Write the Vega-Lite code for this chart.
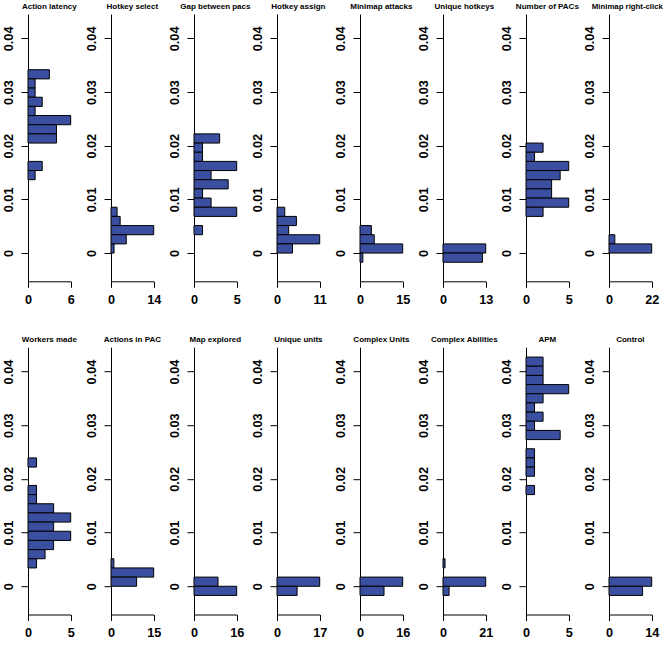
{
"$schema": "https://vega.github.io/schema/vega-lite/v6.json",
"padding": {"left": 1, "top": 3, "right": 0, "bottom": 0},
"background": "white",
"config": {
 "view": {"stroke": null},
 "font": "Liberation Sans",
 "title": {"fontSize": 8, "font": "Liberation Sans", "fontWeight": "bold", "anchor": "middle", "baseline": "alphabetic", "offset": 3, "color": "black"},
 "axisY": {"domainColor": "black", "domainWidth": 1, "tickColor": "black", "tickWidth": 1, "tickSize": 7, "labelAngle": 270, "labelAlign": "center", "labelBaseline": "alphabetic", "labelPadding": 9, "labelFontSize": 12.7, "labelFontWeight": "bold", "labelFont": "Liberation Sans", "labelColor": "black", "grid": false, "title": null, "labelOverlap": false, "labelFlush": false, "labelBound": false},
 "axisX": {"domainColor": "black", "domainWidth": 1, "tickColor": "black", "tickWidth": 1, "tickSize": 6, "labelPadding": 6, "labelBaseline": "top", "labelFontSize": 12.7, "labelFontWeight": "bold", "labelFont": "Liberation Sans", "labelColor": "black", "grid": false, "title": null, "labelOverlap": false, "labelFlush": false, "labelBound": false}
},
"data": {"values": [
 {"p": "Action latency", "lo": 0.032452, "hi": 0.03416, "n": 3},
 {"p": "Action latency", "lo": 0.030744, "hi": 0.032452, "n": 1},
 {"p": "Action latency", "lo": 0.029036, "hi": 0.030744, "n": 1},
 {"p": "Action latency", "lo": 0.027328, "hi": 0.029036, "n": 2},
 {"p": "Action latency", "lo": 0.02562, "hi": 0.027328, "n": 1},
 {"p": "Action latency", "lo": 0.023912, "hi": 0.02562, "n": 6},
 {"p": "Action latency", "lo": 0.022204, "hi": 0.023912, "n": 4},
 {"p": "Action latency", "lo": 0.020496, "hi": 0.022204, "n": 4},
 {"p": "Action latency", "lo": 0.015372, "hi": 0.01708, "n": 2},
 {"p": "Action latency", "lo": 0.013664, "hi": 0.015372, "n": 1},
 {"p": "Hotkey select", "lo": 0.006832, "hi": 0.00854, "n": 2},
 {"p": "Hotkey select", "lo": 0.005124, "hi": 0.006832, "n": 3},
 {"p": "Hotkey select", "lo": 0.003416, "hi": 0.005124, "n": 14},
 {"p": "Hotkey select", "lo": 0.001708, "hi": 0.003416, "n": 5},
 {"p": "Hotkey select", "lo": 0, "hi": 0.001708, "n": 1},
 {"p": "Gap between pacs", "lo": 0.020496, "hi": 0.022204, "n": 3},
 {"p": "Gap between pacs", "lo": 0.018788, "hi": 0.020496, "n": 1},
 {"p": "Gap between pacs", "lo": 0.01708, "hi": 0.018788, "n": 1},
 {"p": "Gap between pacs", "lo": 0.015372, "hi": 0.01708, "n": 5},
 {"p": "Gap between pacs", "lo": 0.013664, "hi": 0.015372, "n": 2},
 {"p": "Gap between pacs", "lo": 0.011956, "hi": 0.013664, "n": 4},
 {"p": "Gap between pacs", "lo": 0.010248, "hi": 0.011956, "n": 1},
 {"p": "Gap between pacs", "lo": 0.00854, "hi": 0.010248, "n": 2},
 {"p": "Gap between pacs", "lo": 0.006832, "hi": 0.00854, "n": 5},
 {"p": "Gap between pacs", "lo": 0.003416, "hi": 0.005124, "n": 1},
 {"p": "Hotkey assign", "lo": 0.006832, "hi": 0.00854, "n": 2},
 {"p": "Hotkey assign", "lo": 0.005124, "hi": 0.006832, "n": 5},
 {"p": "Hotkey assign", "lo": 0.003416, "hi": 0.005124, "n": 3},
 {"p": "Hotkey assign", "lo": 0.001708, "hi": 0.003416, "n": 11},
 {"p": "Hotkey assign", "lo": 0, "hi": 0.001708, "n": 4},
 {"p": "Minimap attacks", "lo": 0.003416, "hi": 0.005124, "n": 4},
 {"p": "Minimap attacks", "lo": 0.001708, "hi": 0.003416, "n": 5},
 {"p": "Minimap attacks", "lo": 0, "hi": 0.001708, "n": 15},
 {"p": "Minimap attacks", "lo": -0.001708, "hi": 0, "n": 1},
 {"p": "Unique hotkeys", "lo": 0, "hi": 0.001708, "n": 13},
 {"p": "Unique hotkeys", "lo": -0.001708, "hi": 0, "n": 12},
 {"p": "Number of PACs", "lo": 0.018788, "hi": 0.020496, "n": 2},
 {"p": "Number of PACs", "lo": 0.01708, "hi": 0.018788, "n": 1},
 {"p": "Number of PACs", "lo": 0.015372, "hi": 0.01708, "n": 5},
 {"p": "Number of PACs", "lo": 0.013664, "hi": 0.015372, "n": 4},
 {"p": "Number of PACs", "lo": 0.011956, "hi": 0.013664, "n": 3},
 {"p": "Number of PACs", "lo": 0.010248, "hi": 0.011956, "n": 3},
 {"p": "Number of PACs", "lo": 0.00854, "hi": 0.010248, "n": 5},
 {"p": "Number of PACs", "lo": 0.006832, "hi": 0.00854, "n": 2},
 {"p": "Minimap right-click", "lo": 0.001708, "hi": 0.003416, "n": 3},
 {"p": "Minimap right-click", "lo": 0, "hi": 0.001708, "n": 22},
 {"p": "Workers made", "lo": 0.022204, "hi": 0.023912, "n": 1},
 {"p": "Workers made", "lo": 0.01708, "hi": 0.018788, "n": 1},
 {"p": "Workers made", "lo": 0.015372, "hi": 0.01708, "n": 1},
 {"p": "Workers made", "lo": 0.013664, "hi": 0.015372, "n": 3},
 {"p": "Workers made", "lo": 0.011956, "hi": 0.013664, "n": 5},
 {"p": "Workers made", "lo": 0.010248, "hi": 0.011956, "n": 3},
 {"p": "Workers made", "lo": 0.00854, "hi": 0.010248, "n": 5},
 {"p": "Workers made", "lo": 0.006832, "hi": 0.00854, "n": 3},
 {"p": "Workers made", "lo": 0.005124, "hi": 0.006832, "n": 2},
 {"p": "Workers made", "lo": 0.003416, "hi": 0.005124, "n": 1},
 {"p": "Actions in PAC", "lo": 0.003416, "hi": 0.005124, "n": 1},
 {"p": "Actions in PAC", "lo": 0.001708, "hi": 0.003416, "n": 15},
 {"p": "Actions in PAC", "lo": 0, "hi": 0.001708, "n": 9},
 {"p": "Map explored", "lo": 0, "hi": 0.001708, "n": 9},
 {"p": "Map explored", "lo": -0.001708, "hi": 0, "n": 16},
 {"p": "Unique units", "lo": 0, "hi": 0.001708, "n": 17},
 {"p": "Unique units", "lo": -0.001708, "hi": 0, "n": 8},
 {"p": "Complex Units", "lo": 0, "hi": 0.001708, "n": 16},
 {"p": "Complex Units", "lo": -0.001708, "hi": 0, "n": 9},
 {"p": "Complex Abilities", "lo": 0.003416, "hi": 0.005124, "n": 1},
 {"p": "Complex Abilities", "lo": 0, "hi": 0.001708, "n": 21},
 {"p": "Complex Abilities", "lo": -0.001708, "hi": 0, "n": 3},
 {"p": "APM", "lo": 0.040992, "hi": 0.0427, "n": 2},
 {"p": "APM", "lo": 0.039284, "hi": 0.040992, "n": 2},
 {"p": "APM", "lo": 0.037576, "hi": 0.039284, "n": 2},
 {"p": "APM", "lo": 0.035868, "hi": 0.037576, "n": 5},
 {"p": "APM", "lo": 0.03416, "hi": 0.035868, "n": 2},
 {"p": "APM", "lo": 0.032452, "hi": 0.03416, "n": 1},
 {"p": "APM", "lo": 0.030744, "hi": 0.032452, "n": 2},
 {"p": "APM", "lo": 0.029036, "hi": 0.030744, "n": 1},
 {"p": "APM", "lo": 0.027328, "hi": 0.029036, "n": 4},
 {"p": "APM", "lo": 0.023912, "hi": 0.02562, "n": 1},
 {"p": "APM", "lo": 0.022204, "hi": 0.023912, "n": 1},
 {"p": "APM", "lo": 0.020496, "hi": 0.022204, "n": 1},
 {"p": "APM", "lo": 0.01708, "hi": 0.018788, "n": 1},
 {"p": "Control", "lo": 0, "hi": 0.001708, "n": 14},
 {"p": "Control", "lo": -0.001708, "hi": 0, "n": 11}
]},
"columns": 8,
"spacing": {"row": 65.2, "column": 40.0},
"bounds": "flush",
"concat": [
 {"title": "Action latency", "width": 42.7, "height": 267.3, "transform": [{"filter": "datum.p === 'Action latency'"}], "mark": {"type": "rect", "fill": "#3B4FA0", "stroke": "black", "strokeWidth": 1}, "encoding": {"x": {"field": "n", "type": "quantitative", "scale": {"domain": [0, 6], "nice": false}, "axis": {"values": [0, 6]}}, "x2": {"datum": 0}, "y": {"field": "lo", "type": "quantitative", "scale": {"domain": [-0.00526, 0.04454], "nice": false, "zero": false}, "axis": {"values": [0, 0.01, 0.02, 0.03, 0.04], "format": "~g"}}, "y2": {"field": "hi"}}},
 {"title": "Hotkey select", "width": 42.7, "height": 267.3, "transform": [{"filter": "datum.p === 'Hotkey select'"}], "mark": {"type": "rect", "fill": "#3B4FA0", "stroke": "black", "strokeWidth": 1}, "encoding": {"x": {"field": "n", "type": "quantitative", "scale": {"domain": [0, 14], "nice": false}, "axis": {"values": [0, 14]}}, "x2": {"datum": 0}, "y": {"field": "lo", "type": "quantitative", "scale": {"domain": [-0.00526, 0.04454], "nice": false, "zero": false}, "axis": {"values": [0, 0.01, 0.02, 0.03, 0.04], "format": "~g"}}, "y2": {"field": "hi"}}},
 {"title": "Gap between pacs", "width": 42.7, "height": 267.3, "transform": [{"filter": "datum.p === 'Gap between pacs'"}], "mark": {"type": "rect", "fill": "#3B4FA0", "stroke": "black", "strokeWidth": 1}, "encoding": {"x": {"field": "n", "type": "quantitative", "scale": {"domain": [0, 5], "nice": false}, "axis": {"values": [0, 5]}}, "x2": {"datum": 0}, "y": {"field": "lo", "type": "quantitative", "scale": {"domain": [-0.00526, 0.04454], "nice": false, "zero": false}, "axis": {"values": [0, 0.01, 0.02, 0.03, 0.04], "format": "~g"}}, "y2": {"field": "hi"}}},
 {"title": "Hotkey assign", "width": 42.7, "height": 267.3, "transform": [{"filter": "datum.p === 'Hotkey assign'"}], "mark": {"type": "rect", "fill": "#3B4FA0", "stroke": "black", "strokeWidth": 1}, "encoding": {"x": {"field": "n", "type": "quantitative", "scale": {"domain": [0, 11], "nice": false}, "axis": {"values": [0, 11]}}, "x2": {"datum": 0}, "y": {"field": "lo", "type": "quantitative", "scale": {"domain": [-0.00526, 0.04454], "nice": false, "zero": false}, "axis": {"values": [0, 0.01, 0.02, 0.03, 0.04], "format": "~g"}}, "y2": {"field": "hi"}}},
 {"title": "Minimap attacks", "width": 42.7, "height": 267.3, "transform": [{"filter": "datum.p === 'Minimap attacks'"}], "mark": {"type": "rect", "fill": "#3B4FA0", "stroke": "black", "strokeWidth": 1}, "encoding": {"x": {"field": "n", "type": "quantitative", "scale": {"domain": [0, 15], "nice": false}, "axis": {"values": [0, 15]}}, "x2": {"datum": 0}, "y": {"field": "lo", "type": "quantitative", "scale": {"domain": [-0.00526, 0.04454], "nice": false, "zero": false}, "axis": {"values": [0, 0.01, 0.02, 0.03, 0.04], "format": "~g"}}, "y2": {"field": "hi"}}},
 {"title": "Unique hotkeys", "width": 42.7, "height": 267.3, "transform": [{"filter": "datum.p === 'Unique hotkeys'"}], "mark": {"type": "rect", "fill": "#3B4FA0", "stroke": "black", "strokeWidth": 1}, "encoding": {"x": {"field": "n", "type": "quantitative", "scale": {"domain": [0, 13], "nice": false}, "axis": {"values": [0, 13]}}, "x2": {"datum": 0}, "y": {"field": "lo", "type": "quantitative", "scale": {"domain": [-0.00526, 0.04454], "nice": false, "zero": false}, "axis": {"values": [0, 0.01, 0.02, 0.03, 0.04], "format": "~g"}}, "y2": {"field": "hi"}}},
 {"title": "Number of PACs", "width": 42.7, "height": 267.3, "transform": [{"filter": "datum.p === 'Number of PACs'"}], "mark": {"type": "rect", "fill": "#3B4FA0", "stroke": "black", "strokeWidth": 1}, "encoding": {"x": {"field": "n", "type": "quantitative", "scale": {"domain": [0, 5], "nice": false}, "axis": {"values": [0, 5]}}, "x2": {"datum": 0}, "y": {"field": "lo", "type": "quantitative", "scale": {"domain": [-0.00526, 0.04454], "nice": false, "zero": false}, "axis": {"values": [0, 0.01, 0.02, 0.03, 0.04], "format": "~g"}}, "y2": {"field": "hi"}}},
 {"title": {"text": "Minimap right-click", "dx": -3, "fontSize": 7.8}, "width": 42.7, "height": 267.3, "transform": [{"filter": "datum.p === 'Minimap right-click'"}], "mark": {"type": "rect", "fill": "#3B4FA0", "stroke": "black", "strokeWidth": 1}, "encoding": {"x": {"field": "n", "type": "quantitative", "scale": {"domain": [0, 22], "nice": false}, "axis": {"values": [0, 22]}}, "x2": {"datum": 0}, "y": {"field": "lo", "type": "quantitative", "scale": {"domain": [-0.00526, 0.04454], "nice": false, "zero": false}, "axis": {"values": [0, 0.01, 0.02, 0.03, 0.04], "format": "~g"}}, "y2": {"field": "hi"}}},
 {"title": "Workers made", "width": 42.7, "height": 267.3, "transform": [{"filter": "datum.p === 'Workers made'"}], "mark": {"type": "rect", "fill": "#3B4FA0", "stroke": "black", "strokeWidth": 1}, "encoding": {"x": {"field": "n", "type": "quantitative", "scale": {"domain": [0, 5], "nice": false}, "axis": {"values": [0, 5]}}, "x2": {"datum": 0}, "y": {"field": "lo", "type": "quantitative", "scale": {"domain": [-0.00526, 0.04454], "nice": false, "zero": false}, "axis": {"values": [0, 0.01, 0.02, 0.03, 0.04], "format": "~g"}}, "y2": {"field": "hi"}}},
 {"title": "Actions in PAC", "width": 42.7, "height": 267.3, "transform": [{"filter": "datum.p === 'Actions in PAC'"}], "mark": {"type": "rect", "fill": "#3B4FA0", "stroke": "black", "strokeWidth": 1}, "encoding": {"x": {"field": "n", "type": "quantitative", "scale": {"domain": [0, 15], "nice": false}, "axis": {"values": [0, 15]}}, "x2": {"datum": 0}, "y": {"field": "lo", "type": "quantitative", "scale": {"domain": [-0.00526, 0.04454], "nice": false, "zero": false}, "axis": {"values": [0, 0.01, 0.02, 0.03, 0.04], "format": "~g"}}, "y2": {"field": "hi"}}},
 {"title": "Map explored", "width": 42.7, "height": 267.3, "transform": [{"filter": "datum.p === 'Map explored'"}], "mark": {"type": "rect", "fill": "#3B4FA0", "stroke": "black", "strokeWidth": 1}, "encoding": {"x": {"field": "n", "type": "quantitative", "scale": {"domain": [0, 16], "nice": false}, "axis": {"values": [0, 16]}}, "x2": {"datum": 0}, "y": {"field": "lo", "type": "quantitative", "scale": {"domain": [-0.00526, 0.04454], "nice": false, "zero": false}, "axis": {"values": [0, 0.01, 0.02, 0.03, 0.04], "format": "~g"}}, "y2": {"field": "hi"}}},
 {"title": "Unique units", "width": 42.7, "height": 267.3, "transform": [{"filter": "datum.p === 'Unique units'"}], "mark": {"type": "rect", "fill": "#3B4FA0", "stroke": "black", "strokeWidth": 1}, "encoding": {"x": {"field": "n", "type": "quantitative", "scale": {"domain": [0, 17], "nice": false}, "axis": {"values": [0, 17]}}, "x2": {"datum": 0}, "y": {"field": "lo", "type": "quantitative", "scale": {"domain": [-0.00526, 0.04454], "nice": false, "zero": false}, "axis": {"values": [0, 0.01, 0.02, 0.03, 0.04], "format": "~g"}}, "y2": {"field": "hi"}}},
 {"title": "Complex Units", "width": 42.7, "height": 267.3, "transform": [{"filter": "datum.p === 'Complex Units'"}], "mark": {"type": "rect", "fill": "#3B4FA0", "stroke": "black", "strokeWidth": 1}, "encoding": {"x": {"field": "n", "type": "quantitative", "scale": {"domain": [0, 16], "nice": false}, "axis": {"values": [0, 16]}}, "x2": {"datum": 0}, "y": {"field": "lo", "type": "quantitative", "scale": {"domain": [-0.00526, 0.04454], "nice": false, "zero": false}, "axis": {"values": [0, 0.01, 0.02, 0.03, 0.04], "format": "~g"}}, "y2": {"field": "hi"}}},
 {"title": "Complex Abilities", "width": 42.7, "height": 267.3, "transform": [{"filter": "datum.p === 'Complex Abilities'"}], "mark": {"type": "rect", "fill": "#3B4FA0", "stroke": "black", "strokeWidth": 1}, "encoding": {"x": {"field": "n", "type": "quantitative", "scale": {"domain": [0, 21], "nice": false}, "axis": {"values": [0, 21]}}, "x2": {"datum": 0}, "y": {"field": "lo", "type": "quantitative", "scale": {"domain": [-0.00526, 0.04454], "nice": false, "zero": false}, "axis": {"values": [0, 0.01, 0.02, 0.03, 0.04], "format": "~g"}}, "y2": {"field": "hi"}}},
 {"title": "APM", "width": 42.7, "height": 267.3, "transform": [{"filter": "datum.p === 'APM'"}], "mark": {"type": "rect", "fill": "#3B4FA0", "stroke": "black", "strokeWidth": 1}, "encoding": {"x": {"field": "n", "type": "quantitative", "scale": {"domain": [0, 5], "nice": false}, "axis": {"values": [0, 5]}}, "x2": {"datum": 0}, "y": {"field": "lo", "type": "quantitative", "scale": {"domain": [-0.00526, 0.04454], "nice": false, "zero": false}, "axis": {"values": [0, 0.01, 0.02, 0.03, 0.04], "format": "~g"}}, "y2": {"field": "hi"}}},
 {"title": "Control", "width": 42.7, "height": 267.3, "transform": [{"filter": "datum.p === 'Control'"}], "mark": {"type": "rect", "fill": "#3B4FA0", "stroke": "black", "strokeWidth": 1}, "encoding": {"x": {"field": "n", "type": "quantitative", "scale": {"domain": [0, 14], "nice": false}, "axis": {"values": [0, 14]}}, "x2": {"datum": 0}, "y": {"field": "lo", "type": "quantitative", "scale": {"domain": [-0.00526, 0.04454], "nice": false, "zero": false}, "axis": {"values": [0, 0.01, 0.02, 0.03, 0.04], "format": "~g"}}, "y2": {"field": "hi"}}}
]
}
